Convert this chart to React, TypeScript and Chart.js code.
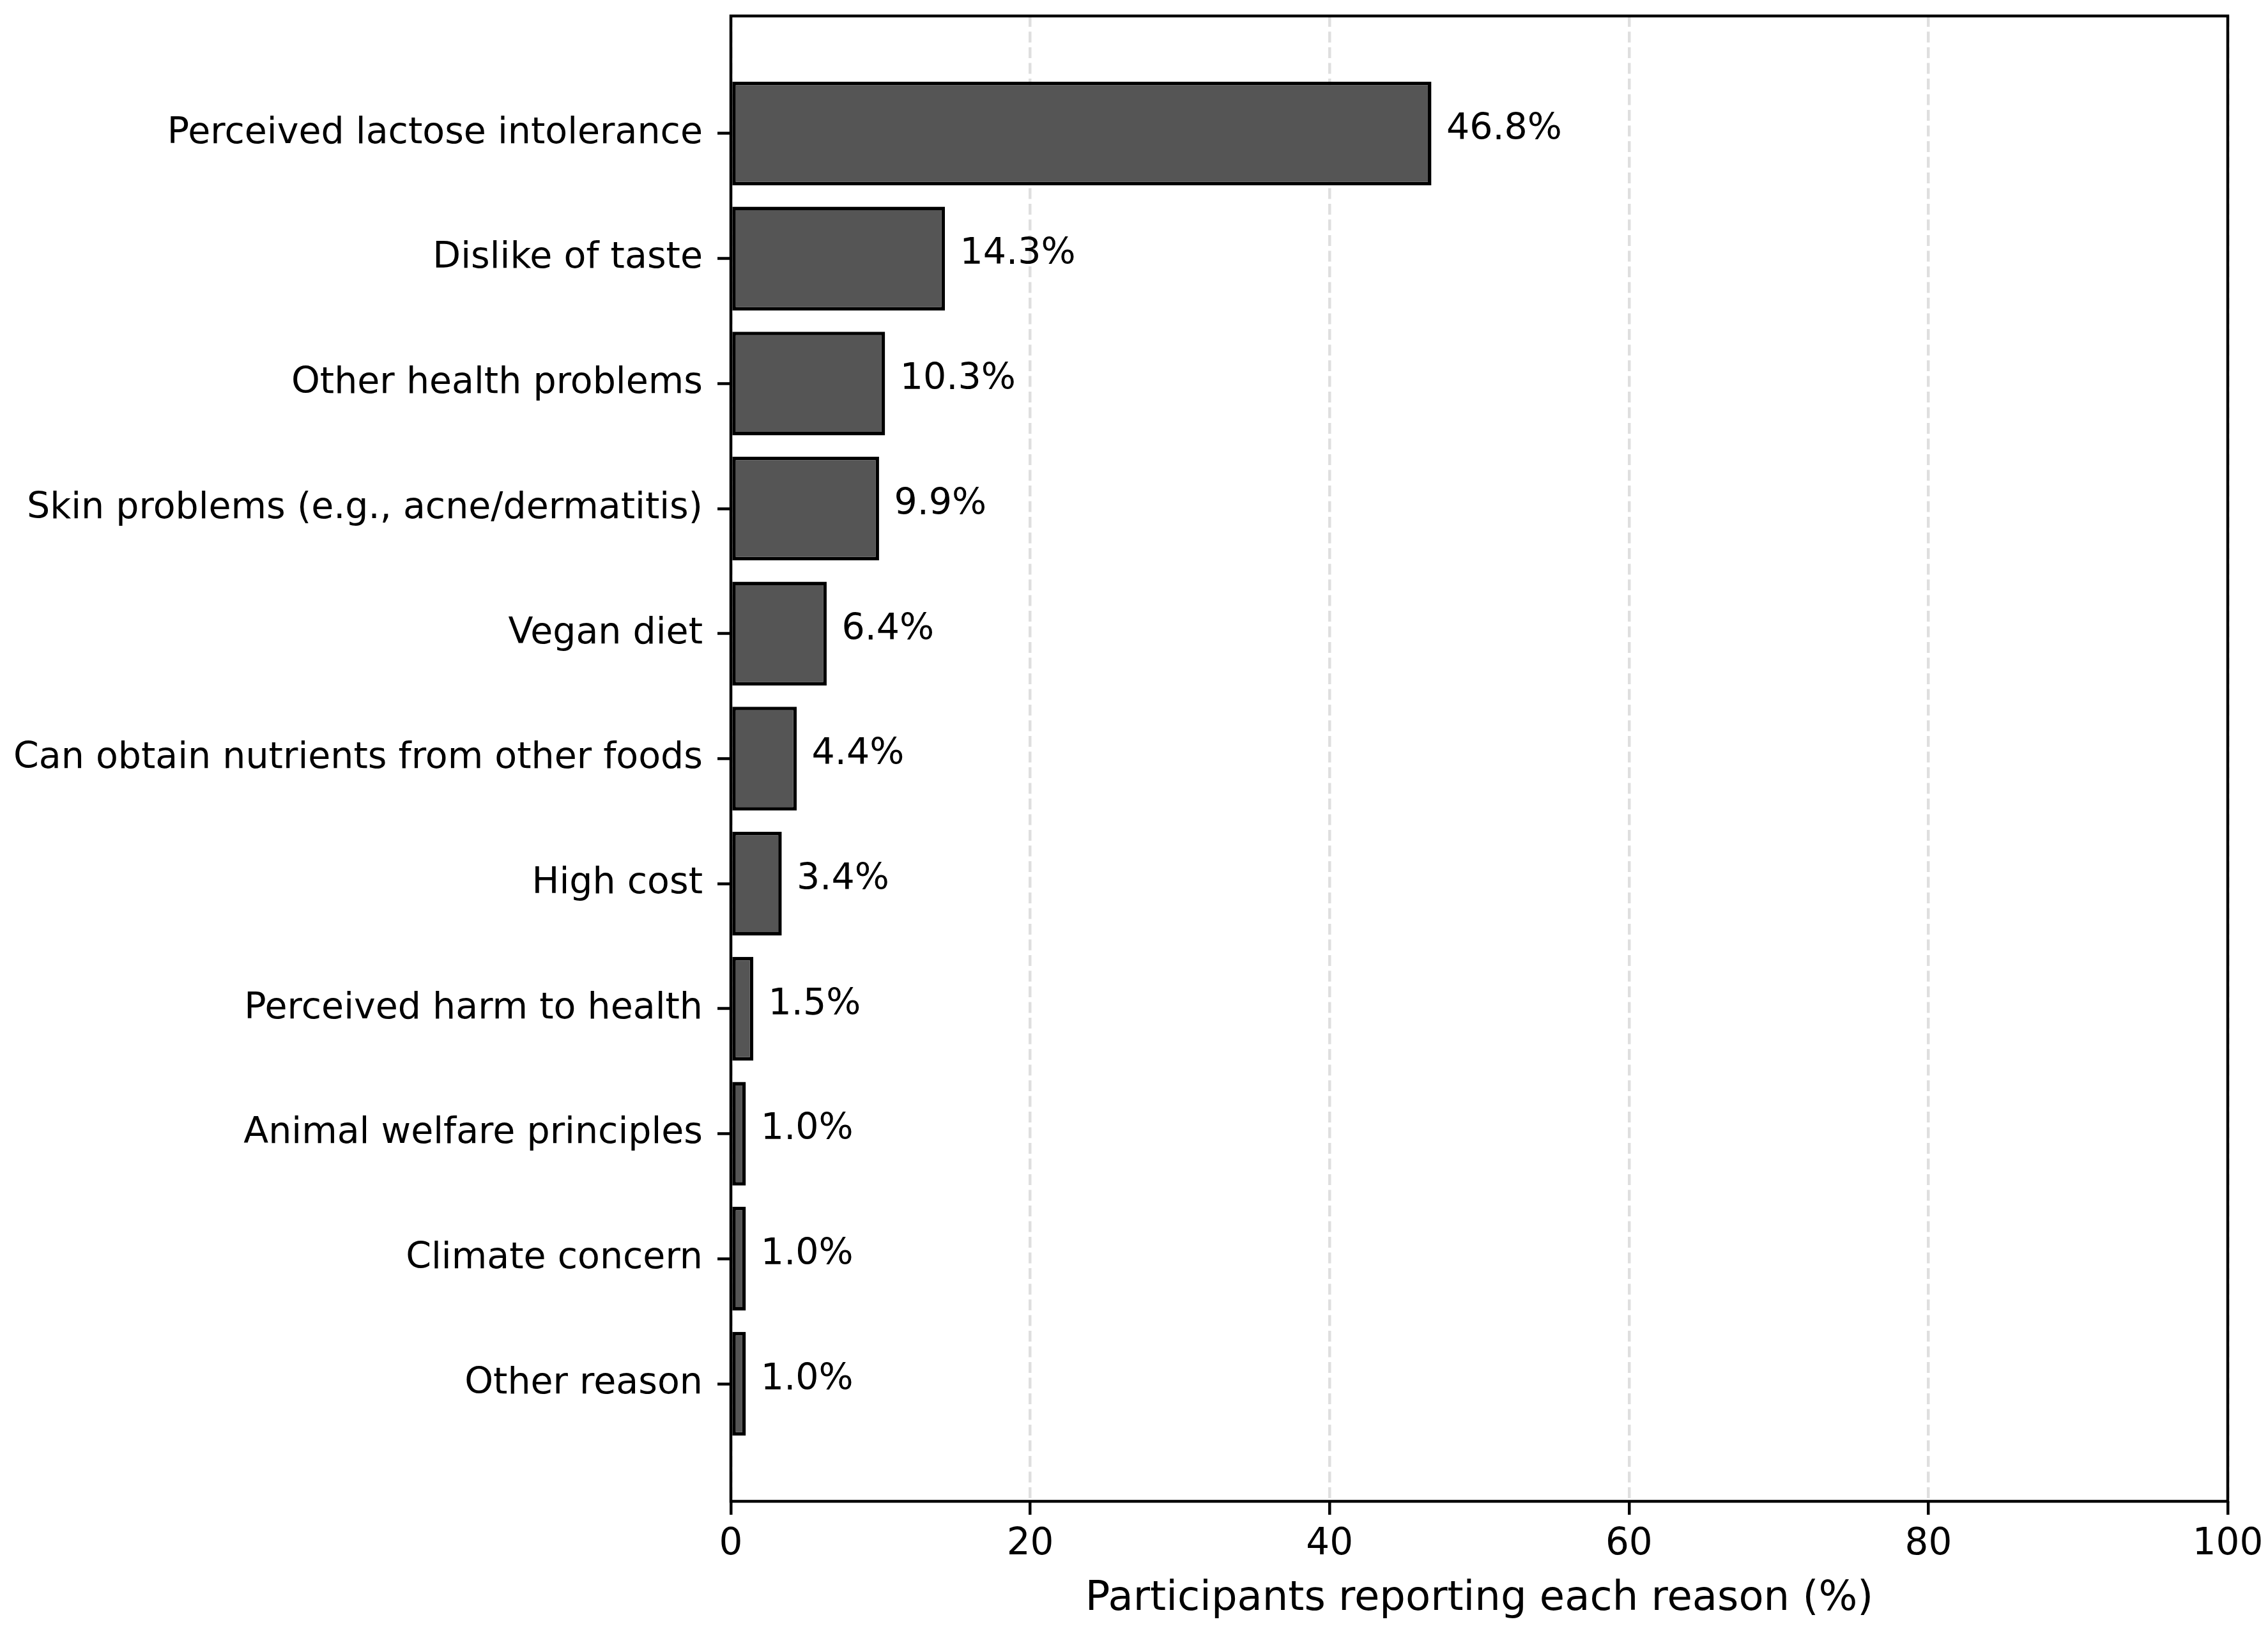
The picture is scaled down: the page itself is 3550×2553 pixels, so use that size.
import React, { useEffect, useRef } from 'react';
import Chart from 'chart.js/auto';

const reasons = [
  'Perceived lactose intolerance',
  'Dislike of taste',
  'Other health problems',
  'Skin problems (e.g., acne/dermatitis)',
  'Vegan diet',
  'Can obtain nutrients from other foods',
  'High cost',
  'Perceived harm to health',
  'Animal welfare principles',
  'Climate concern',
  'Other reason',
];

const shares = [46.8, 14.3, 10.3, 9.9, 6.4, 4.4, 3.4, 1.5, 1.0, 1.0, 1.0];

const xTickValues = [0, 20, 40, 60, 80, 100];

const FONT = 'DejaVu Sans';
const LINE = 4.5;

// frame around the plot and the percentage labels next to each bar
const annotate = {
  id: 'annotate',
  afterDraw(chart: Chart) {
    const { ctx, chartArea } = chart;
    const xScale = chart.scales.x;
    const meta = chart.getDatasetMeta(0);

    ctx.save();
    ctx.font = `57px "${FONT}"`;
    ctx.fillStyle = '#000';
    ctx.textAlign = 'left';
    ctx.textBaseline = 'middle';
    meta.data.forEach((bar: any, i: number) => {
      const v = shares[i];
      ctx.fillText(`${v.toFixed(1)}%`, xScale.getPixelForValue(v + 1), bar.y - 6);
    });

    ctx.strokeStyle = '#000';
    ctx.lineWidth = LINE;
    ctx.strokeRect(
      chartArea.left,
      chartArea.top,
      chartArea.right - chartArea.left,
      chartArea.bottom - chartArea.top
    );
    ctx.restore();
  },
};

const ReasonsChart: React.FC = () => {
  const chartRef = useRef<HTMLCanvasElement>(null);
  const chartInstance = useRef<Chart | null>(null);

  useEffect(() => {
    document.body.style.margin = '0';
    if (!chartRef.current) return;
    if (chartInstance.current) chartInstance.current.destroy();

    const ctx = chartRef.current.getContext('2d');
    if (!ctx) return;

    chartInstance.current = new Chart(ctx, {
      type: 'bar',
      data: {
        datasets: [
          {
            data: shares.map((v, i) => ({ x: v, y: i })),
            backgroundColor: '#555555',
            borderColor: '#000000',
            borderWidth: 5.5,
            borderSkipped: false,
            categoryPercentage: 1,
            barPercentage: 0.83,
          },
        ],
      },
      options: {
        indexAxis: 'y',
        animation: false,
        responsive: false,
        devicePixelRatio: 1,
        layout: { padding: { left: 0, right: 63, top: 25, bottom: 0 } },
        plugins: {
          legend: { display: false },
          tooltip: { enabled: false },
        },
        scales: {
          x: {
            type: 'linear',
            min: 0,
            max: 100,
            z: 1,
            afterBuildTicks: (scale: any) => {
              scale.ticks = xTickValues.map(value => ({ value }));
            },
            afterFit: (scale: any) => {
              scale.height = 203;
              scale.paddingLeft = 0;
              scale.paddingRight = 0;
            },
            grid: {
              color: 'rgba(176,176,176,0.4)',
              lineWidth: LINE,
              drawTicks: true,
              tickLength: 21,
              tickColor: '#000',
              tickWidth: LINE,
              tickBorderDash: [],
            },
            border: { display: false, dash: [17, 7.5] },
            ticks: {
              color: '#000',
              padding: 12,
              maxRotation: 0,
              font: { family: FONT, size: 58 },
            },
            title: {
              display: true,
              text: 'Participants reporting each reason (%)',
              color: '#000',
              padding: { top: 0, bottom: 11 },
              font: { family: FONT, size: 64 },
            },
          },
          y: {
            type: 'linear',
            reverse: true,
            min: -0.94,
            max: 10.94,
            offset: false,
            afterBuildTicks: (scale: any) => {
              scale.ticks = reasons.map((_, i) => ({ value: i }));
            },
            afterFit: (scale: any) => {
              scale.width = 1144;
              scale.paddingTop = 0;
              scale.paddingBottom = 0;
            },
            grid: {
              offset: false,
              drawOnChartArea: false,
              drawTicks: true,
              tickLength: 21,
              tickColor: '#000',
              tickWidth: LINE,
            },
            border: { display: false },
            ticks: {
              color: '#000',
              padding: 23,
              autoSkip: false,
              font: { family: FONT, size: 57 },
              callback: (value: any) => reasons[value as number] ?? '',
            },
          },
        },
      },
      plugins: [annotate],
    });

    return () => {
      if (chartInstance.current) {
        chartInstance.current.destroy();
        chartInstance.current = null;
      }
    };
  }, []);

  return (
    <div style={{ width: 3550, height: 2553, background: '#fff' }}>
      <canvas ref={chartRef} width={3550} height={2553} style={{ display: 'block', width: 3550, height: 2553 }}></canvas>
    </div>
  );
};

export default function App() {
  return <ReasonsChart />;
}
